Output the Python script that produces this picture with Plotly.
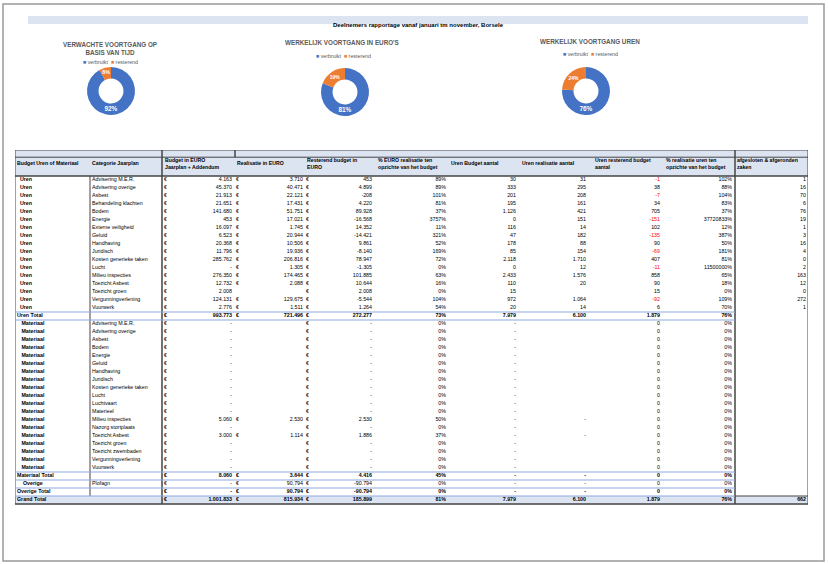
import plotly.graph_objects as go

# ---------------- data ----------------
uren_cats = ["Advisering M.E.R.", "Advisering overige", "Asbest", "Behandeling klachten", "Bodem", "Energie",
             "Externe veiligheid", "Geluid", "Handhaving", "Juridisch", "Kosten generieke taken", "Lucht",
             "Milieu inspecties", "Toezicht Asbest", "Toezicht groen", "Vergunningverlening", "Vuurwerk"]
uren_budget = [4163, 45370, 21913, 21651, 141680, 453, 16097, 6523, 20368, 11796, 285762, None, 276350, 12732, 2008, 124131, 2776]
uren_real = [3710, 40471, 22121, 17431, 51751, 17021, 1745, 20944, 10506, 19936, 206816, 1305, 174465, 2088, "", 129675, 1511]
uren_rest = [453, 4899, -208, 4220, 89928, -16568, 14352, -14421, 9861, -8140, 78947, -1305, 101885, 10644, 2008, -5544, 1264]
uren_pct = [89, 89, 101, 81, 37, 3757, 11, 321, 52, 169, 72, 0, 63, 16, 0, 104, 54]
uren_b_aantal = [30, 333, 201, 195, 1126, 0, 116, 47, 178, 85, 2118, 0, 2433, 110, 15, 972, 20]
uren_r_aantal = [31, 295, 208, 161, 421, 151, 14, 182, 88, 154, 1710, 12, 1576, 20, "", 1064, 14]
uren_rest_aantal = [-1, 38, -7, 34, 705, -151, 102, -135, 90, -69, 407, -11, 858, 90, 15, -92, 6]
uren_pct_uren = [102, 88, 104, 83, 37, 37720833, 12, 387, 50, 181, 81, 11500000, 65, 18, 0, 109, 70]
uren_afg = [1, 16, 70, 6, 76, 19, 1, 3, 16, 4, 0, 2, 163, 12, 0, 272, 1]
uren_total = [993773, 721496, 272277, 73, 7979, 6100, 1879, 76]

mat_cats = ["Advisering M.E.R.", "Advisering overige", "Asbest", "Bodem", "Energie", "Geluid", "Handhaving",
            "Juridisch", "Kosten generieke taken", "Lucht", "Luchtvaart", "Materieel", "Milieu inspecties",
            "Nazorg stortplaats", "Toezicht Asbest", "Toezicht groen", "Toezicht zwembaden",
            "Vergunningverlening", "Vuurwerk"]
mat_budget = [None]*12 + [5060, None, 3000, None, None, None, None]
mat_real = [""]*12 + [2530, "", 1114, "", "", "", ""]
mat_rest = [None]*12 + [2530, None, 1886, None, None, None, None]
mat_pct = [0]*12 + [50, 0, 37, 0, 0, 0, 0]
mat_total = [8060, 3644, 4416, 45]
overige = ["Plofagn", None, 90794, -90794, 0]
grand_total = [1001833, 815934, 185899, 81, 7979, 6100, 1879, 76, 662]

donut_titles = ["VERWACHTE VOORTGANG OP<br>BASIS VAN TIJD", "WERKELIJK VOORTGANG IN EURO'S", "WERKELIJK VOORTGANG UREN"]
donut_labels = ["verbruikt", "resterend"]
donut_verbruikt = [92, 81, 76]
donut_resterend = [8, 19, 24]

header = ["Budget Uren of Materiaal", "Categorie Jaarplan", "Budget in EURO<br>Jaarplan + Addendum",
          "Realisatie in EURO", "Resterend budget in<br>EURO", "% EURO realisatie ten<br>opzichte van het budget",
          "Uren Budget aantal", "Uren realisatie aantal", "Uren resterend budget<br>aantal",
          "% realisatie uren ten<br>opzichte van het budget", "afgesloten & afgeronden<br>zaken"]

# ---------------- layout constants ----------------
BLUE, ORANGE, LIGHT, LINEBLUE = "#4472c4", "#ed7d31", "#dce4f2", "#8ea9db"
col_left = [17, 92, 165, 237, 307, 378, 451, 522, 595, 666, 737]
col_right = [None, None, 232, 303, 372, 446, 516, 586, 660, 732, 806]
euro_x = [164, 236, 306]
FONT = "Liberation Sans"
FS = 5.3


def num(v):
    if v is None:
        return "-"
    if v == "":
        return ""
    s = f"{abs(v):,}".replace(",", ".")
    return ("-" if v < 0 else "") + s


def b(s):
    return f"<b>{s}</b>" if s != "" else ""


rows, reds, euros, bold_rows = [], [], [], []
for i, c in enumerate(uren_cats):
    rows.append([b("  Uren"), c, num(uren_budget[i]), num(uren_real[i]), num(uren_rest[i]), f"{uren_pct[i]}%",
                 num(uren_b_aantal[i]), num(uren_r_aantal[i]), num(uren_rest_aantal[i]), f"{uren_pct_uren[i]}%",
                 str(uren_afg[i])])
    reds.append(uren_rest_aantal[i] < 0); euros.append([True, uren_real[i] != "", True]); bold_rows.append(False)
t = uren_total
rows.append([b("Uren Total"), ""] + [b(num(v)) for v in t[:3]] + [b(f"{t[3]}%")] + [b(num(v)) for v in t[4:7]] + [b(f"{t[7]}%"), ""])
reds.append(False); euros.append([True, True, True]); bold_rows.append(True)
for i, c in enumerate(mat_cats):
    rows.append([b("   Materiaal"), c, num(mat_budget[i]), num(mat_real[i]), num(mat_rest[i]), f"{mat_pct[i]}%",
                 "-", "-" if mat_real[i] != "" else "", "0", "0%", ""])
    reds.append(False); euros.append([True, mat_real[i] != "", True]); bold_rows.append(False)
m = mat_total
rows.append([b("Materiaal Total"), ""] + [b(num(v)) for v in m[:3]] + [b(f"{m[3]}%"), b("-"), b("-"), b("0"), b("0%"), ""])
reds.append(False); euros.append([True, True, True]); bold_rows.append(True)
o = overige
rows.append([b("    Overige"), o[0], num(o[1]), num(o[2]), num(o[3]), f"{o[4]}%", "-", "-", "0", "0%", ""])
reds.append(False); euros.append([True, True, True]); bold_rows.append(False)
rows.append([b("Overige Total"), ""] + [b(num(v)) for v in o[1:4]] + [b(f"{o[4]}%"), b("-"), b("-"), b("0"), b("0%"), ""])
reds.append(False); euros.append([True, True, True]); bold_rows.append(True)
g = grand_total
rows.append([b("Grand Total"), ""] + [b(num(v)) for v in g[:3]] + [b(f"{g[3]}%")] + [b(num(v)) for v in g[4:7]] + [b(f"{g[7]}%"), b(str(g[8]))])
reds.append(False); euros.append([True, True, True]); bold_rows.append(True)

n = len(rows)
idx = list(range(n))
fig = go.Figure()
tf = dict(family=FONT, size=FS, color="black")
for j in range(11):
    txt = [r[j] for r in rows]
    if col_right[j] is None:
        fig.add_trace(go.Scatter(x=[col_left[j]]*n, y=idx, mode="text", text=txt, textposition="middle right",
                                 textfont=tf, hoverinfo="skip", showlegend=False))
    else:
        colors = ["red" if (j == 8 and reds[i]) else "black" for i in idx]
        fig.add_trace(go.Scatter(x=[col_right[j]]*n, y=idx, mode="text", text=txt, textposition="middle left",
                                 textfont=dict(family=FONT, size=FS, color=colors), hoverinfo="skip", showlegend=False))
for k in range(3):
    txt = [(("<b>€</b>" if bold_rows[i] else "€") if euros[i][k] else "") for i in idx]
    fig.add_trace(go.Scatter(x=[euro_x[k]]*n, y=idx, mode="text", text=txt, textposition="middle right",
                             textfont=tf, hoverinfo="skip", showlegend=False))
fig.add_trace(go.Scatter(x=col_left, y=[-2.0]*11, mode="text", text=[b(h) for h in header], textposition="middle right",
                         textfont=dict(family=FONT, size=5.2, color="black"), hoverinfo="skip", showlegend=False))

# donuts
centers = [(111, 91), (345, 92), (586, 91)]
for k in range(3):
    cx, cy = centers[k]
    r = 24
    fig.add_trace(go.Pie(
        labels=donut_labels, values=[donut_verbruikt[k], donut_resterend[k]], hole=0.52, sort=False,
        direction="clockwise", rotation=0,
        marker=dict(colors=[BLUE, ORANGE]), textposition="inside", insidetextorientation="horizontal",
        insidetextfont=dict(color="white", size=6.5, family=FONT),
        texttemplate="<b>%{percent:.0%}</b>",
        domain=dict(x=[(cx-r)/828, (cx+r)/828], y=[1-(cy+r)/564, 1-(cy-r)/564]),
        showlegend=False, hoverinfo="skip",
    ))

title_pos = [(110, 39), (342, 37), (590, 36)]
legend_pos = [(110, 57), (343, 51), (590, 49)]
ann = [dict(x=(28+808)/2/828, y=1-20/564, xref="paper", yref="paper", xanchor="center",
            text="<b>Deelnemers rapportage vanaf januari tm november, Borsele</b>",
            showarrow=False, font=dict(size=6, family=FONT, color="black"))]
for k in range(3):
    x, y = title_pos[k]
    ann.append(dict(x=x/828, y=1-y/564, xref="paper", yref="paper", xanchor="center", text=f"<b>{donut_titles[k]}</b>",
                    showarrow=False, font=dict(size=6.3, family=FONT, color="#595959")))
    x, y = legend_pos[k]
    ann.append(dict(x=x/828, y=1-y/564, xref="paper", yref="paper", xanchor="center", showarrow=False,
                    text=f"<span style='color:{BLUE}'>■</span> {donut_labels[0]}  <span style='color:{ORANGE}'>■</span> {donut_labels[1]}",
                    font=dict(size=5.3, family=FONT, color="#595959")))

Y0, Y1 = 41.0, -3.75
shapes = [
    dict(type="rect", xref="paper", yref="paper", x0=3/828, x1=824/828, y0=1-561/564, y1=1-4/564,
         line=dict(color="#999999", width=1.5)),
    dict(type="rect", xref="paper", yref="paper", x0=28/828, x1=808/828, y0=1-24/564, y1=1-16/564,
         fillcolor=LIGHT, line=dict(width=0), layer="below"),
    dict(type="rect", x0=15, x1=808, y0=-3.75, y1=-0.5, fillcolor=LIGHT, line=dict(width=0), layer="below"),
    dict(type="rect", x0=15, x1=808, y0=39.5, y1=40.5, fillcolor=LIGHT, line=dict(width=0), layer="below"),
    dict(type="line", x0=15, x1=808, y0=-2.85, y1=-2.85, line=dict(color="#444", width=1)),
    dict(type="line", x0=15, x1=808, y0=-0.5, y1=-0.5, line=dict(color="#444", width=1.5)),
    dict(type="line", x0=15, x1=808, y0=40.5, y1=40.5, line=dict(color="#444", width=1)),
    dict(type="rect", x0=15, x1=808, y0=-3.75, y1=40.5, line=dict(color="#444", width=1)),
    dict(type="line", x0=90, x1=90, y0=-0.5, y1=39.5, line=dict(color="#444", width=1)),
    dict(type="line", x0=162, x1=162, y0=-3.75, y1=40.5, line=dict(color="#444", width=1.5)),
    dict(type="line", x0=235, x1=235, y0=-3.75, y1=-2.85, line=dict(color="#444", width=1.5)),
    dict(type="line", x0=735, x1=735, y0=-3.75, y1=40.5, line=dict(color="#444", width=1.5)),
]
for yy in [16.5, 17.5, 36.5, 37.5, 38.5, 39.5]:
    shapes.append(dict(type="line", x0=15, x1=735, y0=yy, y1=yy, line=dict(color=LINEBLUE, width=1)))
shapes.append(dict(type="line", x0=735, x1=808, y0=39.5, y1=39.5, line=dict(color="#444", width=1)))

fig.update_layout(
    width=828, height=564, margin=dict(l=0, r=0, t=0, b=0), paper_bgcolor="white", plot_bgcolor="white",
    annotations=ann, shapes=shapes,
    xaxis=dict(domain=[15/828, 808/828], range=[15, 808], visible=False, fixedrange=True),
    yaxis=dict(domain=[1-508/564, 1-150/564], range=[Y0, Y1], visible=False, fixedrange=True),
)
fig.write_html("out.html", config={"displayModeBar": False},
               post_script="document.body.style.margin='0';document.body.style.overflow='hidden';")
